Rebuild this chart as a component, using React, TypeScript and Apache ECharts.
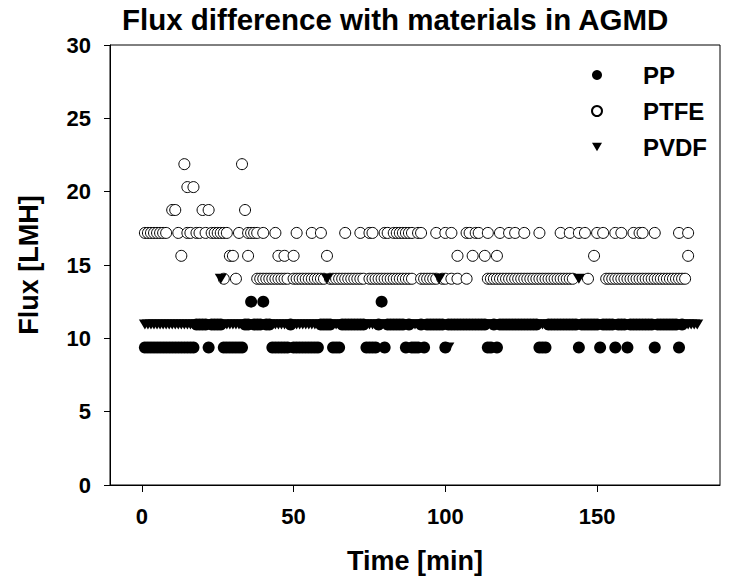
import React, { useEffect, useRef } from "react";
import * as echarts from "echarts";

const FONT = "'Liberation Sans', Arial, Helvetica, sans-serif";
const TITLE = "Flux difference with materials in AGMD";
const X_NAME = "Time [min]";
const Y_NAME = "Flux [LMH]";
const X_TICKS = [0, 50, 100, 150];
const SERIES_NAMES = ["PP", "PTFE", "PVDF"];

// flux levels (LMH)
const L9 = 9.375;
const L10 = 10.9375;
const L12 = 12.5;
const L14 = 14.0625;
const L15 = 15.625;
const L17 = 17.1875;
const L18 = 18.75;
const L20 = 20.3125;
const L21 = 21.875;

// PP (filled circles): times [min] at each flux level
const ppTimes9 = [1, 2, 3, 4, 5, 6, 7, 8, 9, 10, 11, 12, 13, 14, 15, 16, 17, 22, 27, 28, 29, 30, 31, 32, 33, 43, 44, 45, 46, 47, 48, 50, 51, 52, 53, 54, 55, 56, 57, 58, 63, 64, 65, 74, 75, 76, 77, 80, 87, 89, 90, 91, 93, 100, 114, 115, 117, 131, 132, 133, 144, 151, 156, 160, 169, 177];
const ppTimes10 = [18, 19, 20, 21, 23, 24, 25, 26, 34, 35, 37, 38, 39, 41, 42, 49, 59, 60, 61, 62, 66, 67, 68, 69, 70, 71, 72, 73, 78, 81, 82, 83, 84, 85, 86, 88, 92, 94, 95, 96, 97, 98, 99, 101, 102, 103, 104, 105, 106, 107, 108, 109, 110, 111, 112, 113, 116, 118, 119, 120, 121, 122, 123, 124, 125, 126, 127, 128, 129, 130, 134, 135, 136, 137, 138, 139, 140, 141, 142, 143, 145, 146, 147, 148, 149, 150, 152, 153, 154, 155, 157, 158, 159, 161, 162, 163, 164, 165, 166, 167, 168, 170, 171, 172, 173, 174, 175, 176, 178];
const ppTimes12 = [36, 40, 79];

// PTFE (open circles)
const ptfeTimes14 = [27, 31, 38, 39, 40, 41, 42, 43, 44, 45, 46, 47, 48, 50, 51, 52, 53, 54, 55, 56, 57, 58, 59, 60, 62, 63, 64, 65, 66, 67, 68, 69, 70, 71, 72, 73, 75, 76, 77, 78, 79, 80, 81, 82, 83, 84, 85, 86, 87, 88, 89, 92, 93, 94, 95, 96, 97, 99, 100, 102, 104, 107, 114, 115, 116, 117, 118, 119, 120, 121, 122, 123, 124, 125, 126, 127, 128, 129, 130, 131, 132, 133, 134, 135, 136, 137, 138, 139, 140, 141, 142, 147, 153, 154, 155, 156, 157, 158, 159, 160, 161, 162, 163, 164, 165, 166, 167, 168, 169, 170, 171, 172, 173, 174, 175, 176, 177, 178, 179];
const ptfeTimes15 = [13, 29, 30, 35, 45, 47, 50, 61, 104, 109, 113, 117, 149, 180];
const ptfeTimes17 = [1, 2, 3, 4, 5, 6, 7, 8, 12, 15, 16, 18, 19, 21, 23, 24, 25, 26, 27, 28, 32, 35, 36, 37, 38, 40, 44, 51, 56, 59, 67, 72, 75, 76, 80, 81, 83, 84, 85, 86, 87, 88, 89, 91, 92, 97, 100, 102, 107, 108, 110, 111, 114, 118, 121, 123, 126, 131, 138, 141, 144, 146, 150, 152, 156, 158, 162, 164, 165, 169, 177, 180];
const ptfeTimes18 = [10, 11, 20, 22, 34];
const ptfeTimes20 = [15, 17];
const ptfeTimes21 = [14, 33];

// PVDF (filled down triangles)
const pvdfTimes9 = [101];
const pvdfTimes10 = [1, 2, 3, 4, 5, 6, 7, 8, 9, 10, 11, 12, 13, 14, 15, 16, 17, 18, 19, 20, 21, 22, 23, 24, 25, 27, 28, 29, 30, 31, 32, 33, 34, 35, 36, 37, 38, 39, 40, 41, 42, 43, 44, 45, 46, 47, 48, 49, 50, 51, 52, 53, 54, 55, 56, 57, 58, 59, 60, 62, 63, 64, 65, 66, 67, 68, 69, 70, 71, 72, 73, 74, 75, 76, 77, 78, 79, 80, 81, 82, 83, 84, 85, 86, 87, 88, 89, 90, 91, 92, 93, 94, 95, 96, 97, 99, 100, 102, 103, 104, 105, 106, 107, 108, 109, 110, 111, 112, 113, 114, 115, 116, 117, 118, 119, 120, 121, 122, 123, 124, 125, 126, 127, 128, 129, 130, 131, 132, 133, 134, 135, 136, 137, 138, 139, 140, 141, 142, 143, 145, 146, 147, 148, 149, 150, 151, 152, 153, 154, 155, 156, 157, 158, 159, 160, 161, 162, 163, 164, 165, 166, 167, 168, 169, 170, 171, 172, 173, 174, 175, 176, 177, 178, 179, 180, 181, 182, 183];
const pvdfTimes14 = [26, 61, 98, 144];

const TRI = "path://M0,0L12,0L6,10Z";

const pts = (times: number[], level: number) => times.map((t) => [t, level]);

export default function App() {
  const ref = useRef<HTMLDivElement>(null);
  useEffect(() => {
    if (!ref.current) return;
    const chart = echarts.init(ref.current, null, { renderer: "svg" });
    const ppData = [...pts(ppTimes9, L9), ...pts(ppTimes10, L10), ...pts(ppTimes12, L12)];
    const ptfeData = [
      ...pts(ptfeTimes14, L14),
      ...pts(ptfeTimes15, L15),
      ...pts(ptfeTimes17, L17),
      ...pts(ptfeTimes18, L18),
      ...pts(ptfeTimes20, L20),
      ...pts(ptfeTimes21, L21),
    ];
    const pvdfData = [...pts(pvdfTimes9, L9), ...pts(pvdfTimes10, L10), ...pts(pvdfTimes14, L14)];
    const bold = { fontFamily: FONT, fontWeight: "bold" as const, color: "#000" };
    chart.setOption({
      animation: false,
      backgroundColor: "#fff",
      title: {
        text: TITLE,
        left: 122,
        top: 4,
        padding: 0,
        textStyle: { ...bold, fontSize: 29.5 },
      },
      legend: {
        orient: "vertical",
        left: 591,
        top: 62,
        padding: 0,
        itemWidth: 10,
        itemHeight: 10,
        itemGap: 10,
        selectedMode: false,
        data: [
          { name: SERIES_NAMES[0], icon: "circle" },
          { name: SERIES_NAMES[1], icon: "circle" },
          { name: SERIES_NAMES[2], icon: TRI },
        ],
        textStyle: { ...bold, fontSize: 24, lineHeight: 26, padding: [0, 0, 0, 36] },
      },
      grid: {
        left: 110,
        right: 19,
        top: 45,
        bottom: 95,
        show: true,
        borderColor: "#000",
        borderWidth: 1,
        backgroundColor: "transparent",
      },
      xAxis: {
        type: "value",
        min: -10.5,
        max: 190.5,
        name: X_NAME,
        nameLocation: "middle",
        nameGap: 62,
        nameTextStyle: { ...bold, fontSize: 27 },
        axisLine: { show: true, onZero: false, lineStyle: { color: "#000", width: 1 } },
        axisTick: { show: true, length: 7, customValues: X_TICKS, lineStyle: { color: "#000" } },
        axisLabel: { customValues: X_TICKS, margin: 20, ...bold, fontSize: 22 },
        splitLine: { show: false },
      },
      yAxis: {
        type: "value",
        min: 0,
        max: 30,
        interval: 5,
        name: Y_NAME,
        nameLocation: "middle",
        nameGap: 68,
        nameRotate: 90,
        nameTextStyle: { ...bold, fontSize: 27 },
        axisLine: { show: true, onZero: false, lineStyle: { color: "#000", width: 1 } },
        axisTick: { show: true, length: 6, lineStyle: { color: "#000" } },
        axisLabel: { margin: 19, ...bold, fontSize: 22 },
        splitLine: { show: false },
      },
      series: [
        {
          name: SERIES_NAMES[0],
          type: "scatter",
          symbol: "circle",
          symbolSize: 12,
          itemStyle: { color: "#000", opacity: 1 },
          emphasis: { disabled: true },
          data: ppData,
        },
        {
          name: SERIES_NAMES[1],
          type: "scatter",
          symbol: "circle",
          symbolSize: 11,
          itemStyle: { color: "#fff", borderColor: "#000", borderWidth: 1, opacity: 1 },
          emphasis: { disabled: true },
          data: ptfeData,
        },
        {
          name: SERIES_NAMES[2],
          type: "scatter",
          symbol: TRI,
          symbolSize: [12, 10],
          itemStyle: { color: "#000", opacity: 1 },
          emphasis: { disabled: true },
          data: pvdfData,
        },
      ],
    });
    return () => chart.dispose();
  }, []);
  return (
    <div
      ref={ref}
      style={{ position: "fixed", left: 0, top: 0, width: 739, height: 580, background: "#fff" }}
    />
  );
}
